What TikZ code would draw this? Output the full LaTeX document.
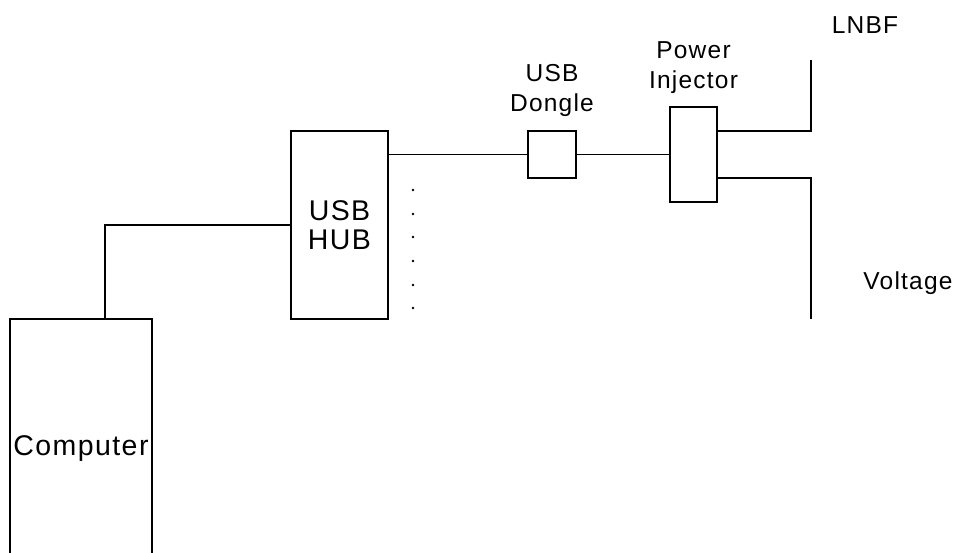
\documentclass[tikz,border=0pt]{standalone}
\usepackage{fontspec}
\setmainfont{Liberation Sans}[LetterSpace=5]
\usetikzlibrary{positioning}
\tikzset{
    wiring/.style={
        x=1pt,y=-1pt,
        box/.append style={draw,line width=1.2pt,rectangle,inner sep=0pt},
        lbl/.append style={align=center,inner sep=0pt,font=\fontsize{24.5}{30.5}\selectfont},
        biglbl/.append style={align=center,font=\fontsize{28.5}{29}\selectfont},
        every path/.append style={line width=1.2pt}
    }
}

\begin{document}
\begin{tikzpicture}[wiring]
    \useasboundingbox (0,0) rectangle (964,552);
    \node[box,biglbl,minimum width=142,minimum height=258] (comp) at (81,448) {Computer};
    \node[box,biglbl,minimum width=97,minimum height=188] (hub) at (339.5,225) {USB\\HUB};
    \node[box,minimum width=48,minimum height=47] (dongle) at (552,154.5) {};
    \node[box,minimum width=47,minimum height=95] (inj) at (693.5,154.5) {};
    \node[lbl,above=13pt of dongle] (donglelbl) {USB\\Dongle};
    \node[lbl,above=12pt of inj] (injlbl) {Power\\Injector};
    \coordinate (lnbf) at (811,60);
    \coordinate (volt) at (811,319);
    \node[lbl] (lnbflbl) at (865,25) {LNBF};
    \node[lbl] (voltlbl) at (908,283) {Voltage};
    % cables
    \draw ([xshift=24pt]comp.north) |- (hub.west);
    \draw (hub.east |- dongle.west) -- (dongle.west);
    \draw (dongle.east) -- (inj.west);
    \draw ([yshift=23.5pt]inj.east) -| (lnbf);
    \draw ([yshift=-23.5pt]inj.east) -| (volt);
    % free ports
    \foreach \y in {190,214,237,261,285,308}
        \fill (413,\y) circle (1.4);
\end{tikzpicture}
\end{document}
